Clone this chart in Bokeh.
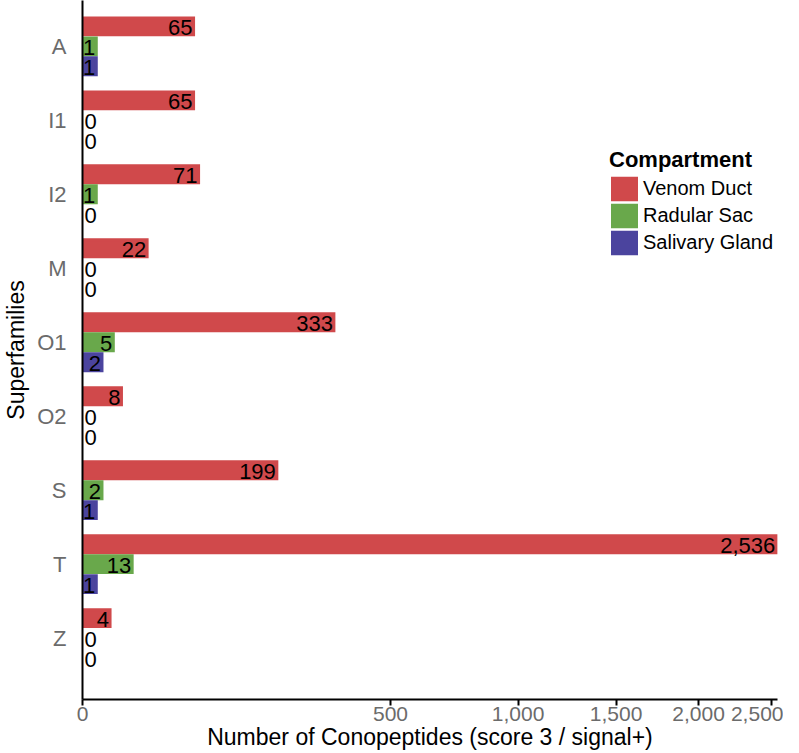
import numpy as np
from bokeh.plotting import figure
from bokeh.models import (ColumnDataSource, Range1d, FixedTicker, CustomJSTickFormatter,
                          CustomJSTransform, Legend, LegendItem)
from bokeh.transform import transform
from bokeh.core.properties import value
from bokeh.embed import file_html
from bokeh.resources import INLINE

# ---- data ----
superfamilies = ["A", "I1", "I2", "M", "O1", "O2", "S", "T", "Z"]
venom_duct = [65, 65, 71, 22, 333, 8, 199, 2536, 4]
radular_sac = [1, 0, 1, 0, 5, 0, 2, 13, 0]
salivary_gland = [1, 0, 0, 0, 2, 0, 1, 1, 0]
series_names = ["Venom Duct", "Radular Sac", "Salivary Gland"]
series_colors = ["#D0494B", "#69A84B", "#4B449E"]
x_ticks = [0, 500, 1000, 1500, 2000, 2500]

FONT = "Liberation Sans"

sqrt_t = CustomJSTransform(func="return Math.sqrt(x);",
                           v_func="return xs.map(x => Math.sqrt(x));")

p = figure(width=783, height=752, output_backend="svg", toolbar_location=None,
           x_range=Range1d(0, 50.45), y_range=Range1d(8.83, -0.62),
           min_border_left=68, min_border_right=6, min_border_top=0,
           min_border_bottom=0)
p.outline_line_color = None
p.grid.visible = False

slot = 0.27          # vertical slot of one bar (category units)
stroke = 3           # px outline in the bar colour
offsets = [-slot, 0.0, slot]
renderers = []
for name, vals, color, off in zip(series_names,
                                  [venom_duct, radular_sac, salivary_gland],
                                  series_colors, offsets):
    ys = [i + off for i in range(len(superfamilies))]
    nz = [k for k, v in enumerate(vals) if v > 0]
    z = [k for k, v in enumerate(vals) if v == 0]
    src = ColumnDataSource(dict(y=[ys[k] for k in nz], v=[vals[k] for k in nz],
                                lab=[f"{vals[k]:,}" for k in nz]))
    r = p.hbar(y="y", left=0, right=transform("v", sqrt_t), height=slot - 0.041,
               source=src, fill_color=color, line_color=color, line_width=stroke,
               line_join="miter")
    renderers.append(r)
    p.text(x=transform("v", sqrt_t), y="y", text="lab", source=src,
           text_align="right", text_baseline="middle", x_offset=-1, y_offset=1,
           text_font_size="22px", text_font=value(FONT), text_color="black")
    if z:
        src_z = ColumnDataSource(dict(y=[ys[k] for k in z], v=[vals[k] for k in z],
                                      lab=[f"{vals[k]:,}" for k in z]))
        p.text(x=transform("v", sqrt_t), y="y", text="lab", source=src_z,
               text_align="left", text_baseline="middle", x_offset=2, y_offset=1,
               text_font_size="22px", text_font=value(FONT), text_color="black")

# x axis (square-root scale)
xa = p.xaxis[0]
xa.ticker = FixedTicker(ticks=[float(np.sqrt(t)) for t in x_ticks])
xa.formatter = CustomJSTickFormatter(
    code="return Math.round(tick*tick).toLocaleString('en-US');")
xa.axis_label = "Number of Conopeptides (score 3 / signal+)"
xa.axis_label_text_font = FONT
xa.axis_label_text_font_size = "23px"
xa.axis_label_text_font_style = "normal"
xa.axis_label_text_color = "black"
xa.axis_label_standoff = 0
xa.major_label_text_font = FONT
xa.major_label_text_font_size = "21px"
xa.major_label_text_color = "#6b6b6b"
xa.major_label_standoff = 1
xa.axis_line_width = 2
xa.axis_line_color = "black"
xa.major_tick_line_width = 2
xa.major_tick_out = 6
xa.major_tick_in = 0
xa.minor_tick_line_color = None

# y axis
ya = p.yaxis[0]
ya.ticker = FixedTicker(ticks=list(range(len(superfamilies))))
ya.major_label_overrides = {i: s for i, s in enumerate(superfamilies)}
ya.axis_label = "Superfamilies"
ya.axis_label_text_font = FONT
ya.axis_label_text_font_size = "23px"
ya.axis_label_text_font_style = "normal"
ya.axis_label_text_color = "black"
ya.axis_label_standoff = 5
ya.major_label_text_font = FONT
ya.major_label_text_font_size = "22px"
ya.major_label_text_color = "#6b6b6b"
ya.major_label_standoff = 10
ya.axis_line_width = 2
ya.axis_line_color = "black"
ya.major_tick_line_color = None
ya.minor_tick_line_color = None

legend = Legend(items=[LegendItem(label=n, renderers=[r]) for n, r in zip(series_names, renderers)],
                location=(527, 443), title="Compartment",
                title_text_font=FONT, title_text_font_size="22px",
                title_text_font_style="bold", title_text_color="black",
                title_standoff=2,
                label_text_font=FONT, label_text_font_size="20px",
                label_text_color="black", label_standoff=4,
                glyph_width=30, glyph_height=27, label_height=27,
                spacing=0, padding=0, margin=0,
                border_line_color=None, background_fill_alpha=0)
p.add_layout(legend)

open("out.html", "w").write(file_html(p, INLINE))
